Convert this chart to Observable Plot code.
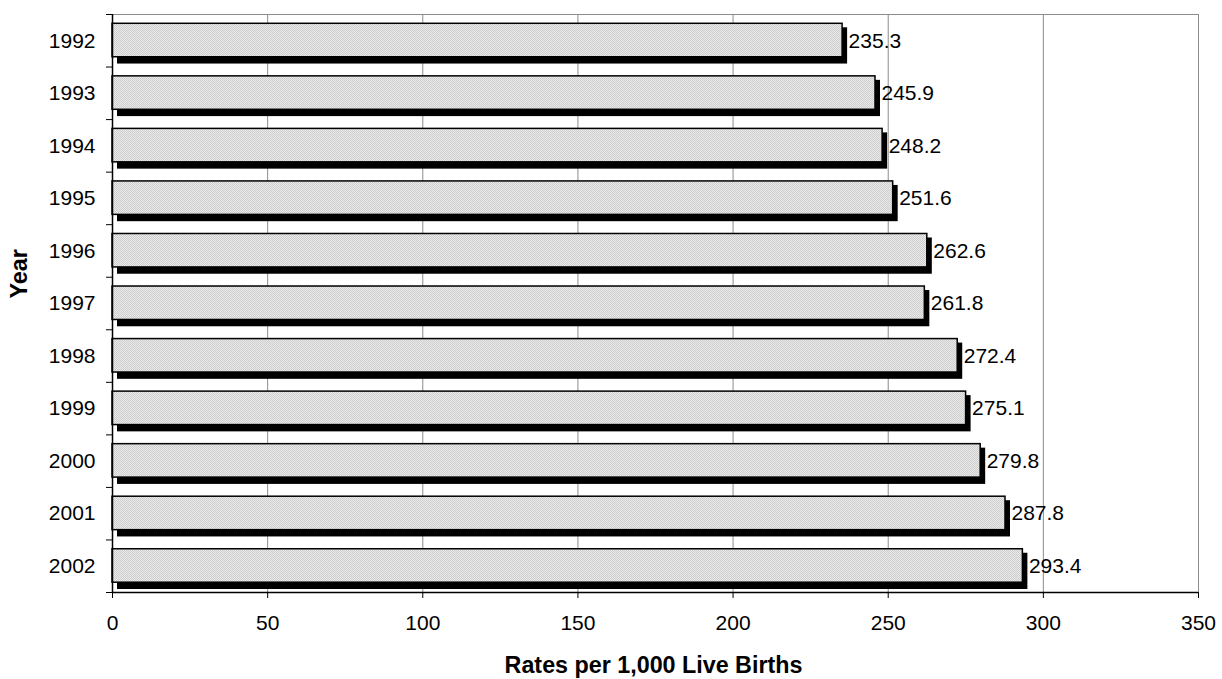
<!DOCTYPE html>
<html>
<head>
<meta charset="utf-8">
<script src="https://cdn.jsdelivr.net/npm/d3@7"></script>
<script src="https://cdn.jsdelivr.net/npm/@observablehq/plot@0.6"></script>
<style>
  html, body { margin: 0; padding: 0; background: #fff; }
  #chart svg { display: block; }
</style>
</head>
<body>
<div id="chart"></div>
<script>
const years = [1992, 1993, 1994, 1995, 1996, 1997, 1998, 1999, 2000, 2001, 2002];
const rates = [235.3, 245.9, 248.2, 251.6, 262.6, 261.8, 272.4, 275.1, 279.8, 287.8, 293.4];
const xTicks = [0, 50, 100, 150, 200, 250, 300, 350];
const xTitle = "Rates per 1,000 Live Births";
const yTitle = "Year";

const data = years.map((y, i) => ({year: y, rate: rates[i]}));
const bounds = [...years.map(y => y - 0.5), years[years.length - 1] + 0.5];
const font = "Arial, 'Liberation Sans', sans-serif";

const chart = Plot.plot({
  width: 1222,
  height: 679,
  marginLeft: 112,
  marginRight: 24,
  marginTop: 14,
  marginBottom: 87,
  style: {fontFamily: font, background: "#fff", overflow: "visible"},
  x: {domain: [0, 350], ticks: xTicks},
  y: {domain: [1991.5, 2002.5], reverse: true},
  marks: [
    Plot.frame({stroke: "#8c8c8c", strokeWidth: 1}),
    Plot.gridX(xTicks, {stroke: "#8c8c8c", strokeOpacity: 1, strokeWidth: 1}),
    // shadows
    Plot.rectX(data, {x1: 0, x2: "rate", y1: d => d.year - 0.5, y2: d => d.year + 0.5,
      fill: "#000", dx: 5, insetTop: 13.3, insetBottom: 3}),
    // bars
    Plot.rectX(data, {x1: 0, x2: "rate", y1: d => d.year - 0.5, y2: d => d.year + 0.5,
      fill: "url(#dots)", stroke: "#000", strokeWidth: 1.5, insetTop: 9.3, insetBottom: 9.8}),
    Plot.text(data, {x: "rate", y: "year", text: d => d.rate.toFixed(1), dx: 6, textAnchor: "start",
      fontSize: 21, fill: "#000"}),
    Plot.ruleX([0], {stroke: "#000", strokeWidth: 1.5}),
    Plot.ruleY([2002.5], {stroke: "#000", strokeWidth: 1.5}),
    Plot.axisX({ticks: xTicks, tickSize: 6, tickPadding: 17, fontSize: 21, label: null, stroke: "#000"}),
    Plot.axisY({ticks: bounds, tickFormat: () => "", tickSize: 6, label: null, stroke: "#000"}),
    Plot.axisY({ticks: years, tickFormat: d => String(d), tickSize: 0, tickPadding: 17, fontSize: 21, label: null}),
    Plot.text([xTitle], {frameAnchor: "bottom", lineAnchor: "middle", dx: -2, dy: 73, text: d => d, fontSize: 23.3, fontWeight: "bold", fill: "#000"}),
    Plot.text([yTitle], {frameAnchor: "left", lineAnchor: "middle", dx: -93, dy: -5, rotate: -90, text: d => d, fontSize: 23.3, fontWeight: "bold", fill: "#000"})
  ]
});

const defs = d3.select(chart).insert("defs", ":first-child");
const pat = defs.append("pattern").attr("id", "dots").attr("width", 2).attr("height", 2)
  .attr("patternUnits", "userSpaceOnUse");
pat.append("rect").attr("width", 2).attr("height", 2).attr("fill", "#eaeaea");
pat.append("rect").attr("width", 1).attr("height", 1).attr("fill", "#cdcdcd");
pat.append("rect").attr("x", 1).attr("y", 1).attr("width", 1).attr("height", 1).attr("fill", "#cdcdcd");

document.getElementById("chart").appendChild(chart);
</script>
</body>
</html>
